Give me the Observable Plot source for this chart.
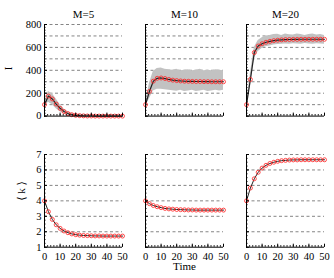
<!DOCTYPE html>
<html><head><meta charset="utf-8">
<script src="https://cdn.jsdelivr.net/npm/d3@7"></script>
<script src="https://cdn.jsdelivr.net/npm/@observablehq/plot@0.6"></script>
<style>
body{margin:0;background:#fff}
#c svg{display:block}
#c svg, #c svg text{font-family:"Liberation Serif","DejaVu Serif",serif !important;font-weight:normal}
</style>
</head><body><div id="c"></div>
<script>
const panels = ["M=5", "M=10", "M=20"];
const time = [0, 2.5, 5, 7.5, 10, 12.5, 15, 17.5, 20, 22.5, 25, 27.5, 30, 32.5, 35, 37.5, 40, 42.5, 45, 47.5, 50];

// I (infected) mean / theory
const I_M5  = [100, 175, 150, 105, 68, 40, 22, 12, 7, 4, 2, 1, 1, 0, 0, 0, 0, 0, 0, 0, 0];
const I_M10 = [100, 215, 305, 330, 333, 328, 320, 314, 310, 307, 305, 304, 303, 302, 302, 301, 301, 300, 300, 300, 300];
const I_M20 = [100, 320, 555, 612, 632, 645, 653, 659, 663, 666, 668, 669, 670, 670, 671, 671, 671, 671, 671, 671, 671];
// spread of stochastic runs (upper / lower envelope)
const hi_M5  = [125, 215, 195, 150, 100, 62, 38, 24, 15, 10, 7, 5, 4, 3, 3, 2, 2, 2, 2, 2, 2];
const lo_M5  = [85, 120, 100, 65, 38, 20, 10, 4, 2, 0, 0, 0, 0, 0, 0, 0, 0, 0, 0, 0, 0];
const hi_M10 = [115, 285, 390, 415, 420, 410, 405, 400, 410, 395, 400, 405, 395, 400, 410, 395, 400, 395, 405, 400, 395];
const lo_M10 = [85, 150, 220, 235, 235, 230, 225, 222, 218, 225, 215, 220, 225, 215, 220, 225, 215, 220, 225, 220, 225];
const hi_M20 = [112, 370, 600, 660, 685, 700, 705, 712, 715, 705, 718, 710, 708, 718, 712, 705, 712, 718, 708, 712, 705];
const lo_M20 = [88, 270, 505, 565, 590, 605, 612, 620, 625, 628, 630, 627, 632, 630, 628, 633, 630, 628, 632, 630, 628];

// <k> mean degree
const k_M5  = [4.0, 3.3, 2.8, 2.45, 2.22, 2.05, 1.94, 1.86, 1.81, 1.78, 1.76, 1.75, 1.74, 1.73, 1.73, 1.72, 1.72, 1.72, 1.72, 1.72, 1.72];
const k_M10 = [4.0, 3.82, 3.7, 3.62, 3.56, 3.51, 3.48, 3.46, 3.44, 3.43, 3.42, 3.41, 3.41, 3.40, 3.40, 3.40, 3.40, 3.40, 3.40, 3.40, 3.40];
const k_M20 = [4.0, 4.83, 5.43, 5.85, 6.12, 6.3, 6.42, 6.5, 6.56, 6.6, 6.62, 6.64, 6.65, 6.65, 6.66, 6.66, 6.66, 6.66, 6.66, 6.66, 6.66];

const xTicks = [0, 10, 20, 30, 40, 50];
const yTicksI = [0, 200, 400, 600, 800];
const gridI = [100, 200, 300, 400, 500, 600, 700, 800];
const yTicksK = [1, 2, 3, 4, 5, 6, 7];
const gridK = [2, 3, 4, 5, 6, 7];

const Iser = [I_M5, I_M10, I_M20], hiSer = [hi_M5, hi_M10, hi_M20], loSer = [lo_M5, lo_M10, lo_M20];
const kSer = [k_M5, k_M10, k_M20];
const topRows = panels.flatMap((p, i) => time.map((t, j) => ({M: p, t, I: Iser[i][j], hi: hiSer[i][j], lo: loSer[i][j]})));
const botRows = panels.flatMap((p, i) => time.map((t, j) => ({M: p, t, k: kSer[i][j]})));

const xMinor = d3.range(0, 50.01, 2);
const yMinorI = d3.range(0, 800.01, 25);
const yMinorK = d3.range(1, 7.001, 0.25);
const blank = () => "";
const gridStyle = {stroke: "#777", strokeDasharray: "3,2.5", strokeWidth: 0.9};

const common = {
  width: 334, marginLeft: 43, marginRight: 8,
  x: {domain: [0, 50]},
  fx: {domain: panels, paddingInner: 0.225, paddingOuter: 0},
  style: {fontFamily: "Liberation Serif", fontSize: "10.5px", color: "#000", background: "#fff"}
};

const topPlot = Plot.plot({
  ...common, height: 125, marginTop: 24, marginBottom: 9.4,
  y: {domain: [0, 800]},
  marks: [
    Plot.ruleY(gridI, gridStyle),
    Plot.areaY(topRows, {fx: "M", x: "t", y1: "lo", y2: "hi", fill: "#c2c2c2"}),
    Plot.lineY(topRows, {fx: "M", x: "t", y: "I", stroke: "#222", strokeWidth: 1.2}),
    Plot.dot(topRows, {fx: "M", x: "t", y: "I", stroke: "#f22", r: 2, strokeWidth: 0.8}),
    Plot.ruleX([0], {stroke: "#000"}),
    Plot.ruleY([0], {stroke: "#000"}),
    Plot.axisX(xTicks, {tickSize: -3, tickFormat: blank, label: null}),
    Plot.axisX(xMinor, {tickSize: -1.5, tickFormat: blank, label: null}),
    Plot.axisY(yTicksI, {tickSize: -3, tickFormat: blank, label: null, facetAnchor: null}),
    Plot.axisY(yMinorI, {tickSize: -1.5, tickFormat: blank, label: null, facetAnchor: null}),
    Plot.axisY(yTicksI, {tickSize: 0, tickPadding: 3, label: null}),
    Plot.axisFx({anchor: "top", tickSize: 0, tickPadding: 7, label: null, fontSize: 11}),
    Plot.text([panels[0]], {fx: d => d, text: () => "I", frameAnchor: "left", dx: -36, rotate: -90, fontSize: 11})
  ]
});

const bottomPlot = Plot.plot({
  ...common, height: 153, marginTop: 29, marginBottom: 31.3,
  y: {domain: [1, 7]},
  marks: [
    Plot.ruleY(gridK, gridStyle),
    Plot.lineY(botRows, {fx: "M", x: "t", y: "k", stroke: "#222", strokeWidth: 1}),
    Plot.dot(botRows, {fx: "M", x: "t", y: "k", stroke: "#f22", r: 2, strokeWidth: 0.8}),
    Plot.ruleX([0], {stroke: "#000"}),
    Plot.ruleY([1], {stroke: "#000"}),
    Plot.axisX(xTicks, {tickSize: -3, tickFormat: blank, label: null}),
    Plot.axisX(xMinor, {tickSize: -1.5, tickFormat: blank, label: null}),
    Plot.axisX(xTicks, {tickSize: 0, tickPadding: 5, label: null}),
    Plot.axisY(yTicksK, {tickSize: -3, tickFormat: blank, label: null, facetAnchor: null}),
    Plot.axisY(yMinorK, {tickSize: -1.5, tickFormat: blank, label: null, facetAnchor: null}),
    Plot.axisY(yTicksK, {tickSize: 0, tickPadding: 3, label: null}),
    Plot.axisFx({anchor: "top", tickSize: 0, tickFormat: blank, label: null}),
    Plot.text([panels[0]], {fx: d => d, text: () => "⟨ k ⟩", frameAnchor: "left", dx: -23, rotate: -90, fontSize: 11}),
    Plot.text([panels[1]], {fx: d => d, text: () => "Time", frameAnchor: "bottom", dy: 23, fontSize: 11})
  ]
});

document.getElementById("c").append(topPlot, bottomPlot);
</script>
</body></html>
